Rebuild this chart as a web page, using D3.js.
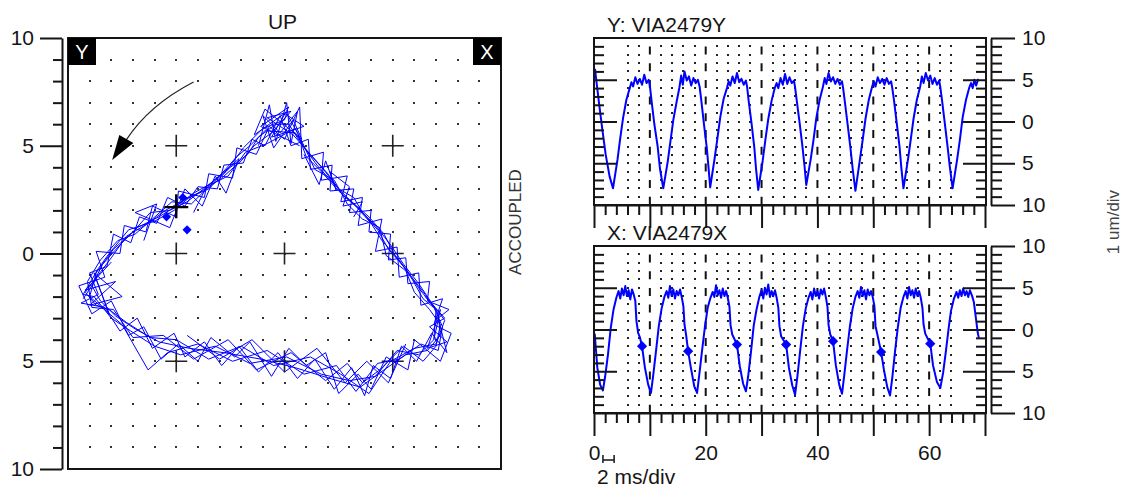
<!DOCTYPE html>
<html>
<head>
<meta charset="utf-8">
<script src="https://cdn.jsdelivr.net/npm/d3@7"></script>
<style>
body { margin: 0; background: #fff; }
svg { display: block; font-family: "Liberation Sans", Arial, sans-serif; }
</style>
</head>
<body>
<div id="chart"></div>
<script>
// ---- orbit (um), x / y pairs, several revolutions
var loopA = [[-0.4,6.0],[-1.2,5.4],[-1.7,4.6],[-2.5,4.0],[-3.3,3.3],[-4.2,2.8],[-5.0,2.2],[-5.8,1.7],[-6.8,1.2],[-7.6,0.4],[-8.4,-0.5],[-8.9,-1.5],[-8.5,-2.2],[-7.8,-2.9],[-6.9,-3.5],[-5.8,-4.1],[-4.4,-4.4],[-2.8,-4.6],[-1.1,-4.9],[0.5,-5.3],[2.1,-5.8],[3.5,-6.2],[4.6,-5.4],[5.6,-4.7],[6.6,-4.5],[7.2,-3.8],[7.1,-2.8],[6.5,-1.9],[5.8,-1.0],[5.1,-0.1],[4.6,0.9],[3.9,1.7],[3.0,2.5],[2.3,3.2],[1.5,4.1],[0.7,5.2],[0.2,6.0],[-0.4,6.0]];
var loopB = [[0.3,6.6],[-0.6,5.6],[-1.4,5.0],[-2.0,4.3],[-2.9,3.5],[-3.8,2.9],[-4.6,2.5],[-5.5,2.0],[-6.3,1.4],[-7.3,0.8],[-8.0,-0.2],[-9.2,-1.8],[-8.7,-2.4],[-8.1,-2.6],[-7.3,-3.2],[-6.2,-3.9],[-5.0,-4.0],[-3.5,-4.9],[-2.0,-4.3],[-0.5,-5.2],[1.2,-4.8],[2.6,-5.6],[3.9,-6.5],[4.9,-5.0],[6.0,-4.4],[7.0,-4.2],[7.4,-3.1],[6.8,-2.3],[6.2,-1.4],[5.5,-0.5],[4.9,0.4],[4.2,1.3],[3.4,2.1],[2.7,2.7],[2.0,3.7],[1.2,4.6],[0.4,5.5],[-0.8,6.3],[0.3,6.6]];
var loopC = [[-0.9,5.7],[-1.6,5.0],[-2.2,4.5],[-3.0,3.6],[-3.6,3.1],[-4.5,2.4],[-5.3,2.0],[-6.2,1.9],[-7.0,1.0],[-7.9,0.2],[-8.7,-0.9],[-9.0,-2.0],[-8.2,-2.7],[-7.5,-3.3],[-6.3,-5.4],[-5.4,-4.6],[-4.0,-4.2],[-2.4,-5.0],[-0.8,-4.5],[0.9,-5.6],[2.4,-5.2],[3.3,-6.4],[4.3,-5.1],[5.3,-4.9],[6.3,-4.2],[7.1,-4.5],[7.3,-3.4],[6.9,-2.5],[6.2,-1.6],[5.6,-0.7],[4.8,0.2],[4.3,1.1],[3.6,1.9],[3.2,2.6],[2.5,3.0],[1.8,3.9],[1.0,4.8],[0.5,5.6],[-0.9,5.7]];
var loopD = [[0.0,6.2],[-1.0,5.8],[-1.9,4.9],[-2.7,3.8],[-3.5,3.0],[-4.4,2.6],[-5.1,2.0],[-6.0,1.5],[-7.2,1.1],[-8.1,0.0],[-8.6,-0.7],[-9.3,-1.9],[-8.8,-2.0],[-8.0,-3.0],[-7.1,-3.6],[-6.0,-4.3],[-4.8,-4.7],[-3.2,-4.3],[-1.6,-5.1],[0.1,-4.8],[1.7,-5.6],[3.0,-5.9],[4.2,-5.7],[5.2,-4.5],[6.2,-4.7],[6.9,-4.0],[7.0,-2.6],[6.4,-2.1],[5.9,-1.2],[5.3,-0.3],[4.5,0.6],[4.0,1.4],[3.2,2.3],[2.5,2.9],[1.7,3.8],[1.0,4.5],[0.6,5.6],[0.1,6.5],[0.0,6.2]];
var loopE = [[0.5,5.8],[-0.8,5.1],[-1.8,4.7],[-2.6,3.6],[-3.4,3.2],[-4.3,2.3],[-5.2,2.4],[-6.1,1.6],[-6.9,0.9],[-7.7,0.6],[-8.5,-0.3],[-9.1,-1.3],[-8.9,-2.5],[-7.9,-2.6],[-7.0,-3.9],[-5.6,-3.8],[-4.2,-4.9],[-2.6,-4.0],[-1.3,-5.4],[0.3,-4.6],[1.9,-5.9],[2.9,-5.1],[3.6,-6.0],[4.4,-5.4],[5.5,-4.3],[6.4,-5.0],[7.0,-4.3],[7.2,-3.3],[6.7,-2.6],[6.0,-1.8],[5.6,-0.8],[4.7,-0.1],[4.4,1.2],[3.6,1.6],[2.9,2.3],[2.3,3.4],[1.4,3.9],[0.9,5.0],[0.5,5.8]];
var loopF = [[-0.2,6.4],[-0.9,5.0],[-1.5,5.3],[-1.9,4.2],[-2.8,4.1],[-3.1,3.0],[-4.0,3.1],[-4.6,2.2],[-5.4,2.6],[-5.9,1.4],[-6.7,1.7],[-7.1,0.5],[-7.9,0.9],[-8.2,-0.6],[-9.0,-0.9],[-8.6,-1.9],[-9.4,-2.3],[-8.3,-2.5],[-7.6,-3.6],[-6.8,-3.0],[-6.1,-4.4],[-5.1,-3.7],[-4.6,-4.8],[-3.7,-4.1],[-2.9,-5.2],[-2.1,-4.3],[-1.2,-5.5],[-0.3,-4.6],[0.6,-5.8],[1.4,-4.9],[2.3,-6.3],[3.1,-5.3],[3.7,-6.6],[4.1,-5.2],[4.9,-5.8],[5.4,-4.3],[6.1,-5.0],[6.8,-3.7],[7.5,-4.6],[7.1,-3.0],[7.6,-2.6],[6.6,-2.2],[6.7,-1.3],[5.7,-1.4],[5.6,-0.2],[4.8,-0.3],[4.9,0.9],[3.9,1.0],[4.0,2.0],[3.0,1.9],[3.2,3.0],[2.1,2.9],[2.2,4.1],[1.2,3.9],[1.1,5.3],[0.3,5.0],[-0.2,6.4]];
var loopG = [[0.7,6.8],[0.0,5.3],[-0.7,5.9],[-1.3,4.6],[-2.2,4.9],[-2.4,3.5],[-3.5,3.7],[-3.7,2.6],[-4.9,2.9],[-5.0,1.7],[-6.1,2.2],[-6.4,1.0],[-7.4,1.3],[-7.6,0.0],[-8.7,0.1],[-8.3,-1.1],[-9.5,-1.5],[-8.9,-2.8],[-8.0,-2.2],[-7.2,-3.8],[-6.5,-3.4],[-5.7,-4.9],[-4.9,-4.2],[-4.0,-5.0],[-3.4,-3.9],[-2.3,-4.8],[-1.6,-4.1],[-0.6,-5.7],[0.2,-4.4],[1.0,-5.2],[1.9,-4.6],[2.5,-6.5],[3.4,-5.6],[4.0,-6.3],[4.7,-4.8],[5.7,-5.4],[6.0,-4.0],[7.2,-5.0],[7.7,-3.7],[6.9,-3.3],[7.3,-2.1],[6.3,-2.4],[6.2,-0.9],[5.3,-1.1],[5.2,0.3],[4.2,0.1],[4.5,1.6],[3.4,1.3],[3.6,2.6],[2.6,2.4],[2.9,3.6],[1.7,3.4],[1.8,4.7],[0.8,4.4],[0.7,6.8]];
var noiseTop = [[-1.2,5.0],[-0.7,6.9],[-0.4,5.2],[0.1,7.0],[0.3,5.1],[0.6,6.6],[-0.2,5.6],[-1.0,6.4],[-0.5,4.9],[0.4,6.2],[0.8,5.3],[-0.9,6.7],[-1.4,5.5],[0.0,6.5],[0.9,5.9],[-0.6,5.4],[0.2,6.8],[-1.1,5.9],[0.7,5.0]];
var noiseRidge = [[0.9,4.6],[1.6,3.2],[1.9,4.3],[2.4,2.9],[2.1,3.8],[3.0,3.1],[2.7,2.2],[3.6,2.4],[3.2,1.7]];
var noiseUpperLeft = [[-6.5,0.6],[-5.9,2.3],[-6.9,1.9],[-5.3,1.2],[-4.6,3.0],[-3.8,2.2],[-3.2,3.6],[-2.7,2.8],[-2.1,4.4],[-3.6,3.1],[-4.2,1.9]];
var noiseLeft = [[-8.0,-0.4],[-9.2,-1.7],[-7.8,-1.3],[-9.0,-2.4],[-7.5,-2.0],[-8.8,-0.9],[-8.1,-2.8],[-8.7,-1.2],[-9.3,-2.1]];
var noiseRight = [[6.5,-2.0],[7.4,-3.0],[6.7,-3.4],[7.5,-4.1],[6.6,-4.4],[7.2,-2.6],[6.9,-4.0]];
var noiseBottom = [[-4.5,-3.8],[-3.0,-4.9],[-1.5,-4.0],[0.0,-5.5],[1.5,-4.4],[2.8,-6.0],[3.8,-5.0],[4.8,-6.0],[5.6,-4.2]];
var orbitKeyphasor = [[-4.7,2.6],[-5.45,1.7],[-4.5,1.1]];
var orbitStart = [-5.0, 2.15];
var orbitCrosses = [[-5,5],[5,5],[-5,0],[0,0],[5,0],[-5,-5],[0,-5],[5,-5]];
var rotationArrow = [[-4.2,7.96],[-6.26,6.89],[-7.31,5.27]];
var arrowHead = [[-7.96,4.34],[-7.63,5.5],[-6.98,5.13]];

// ---- timebase waveforms, [ms, um]
var waveY = [[0,5.2],[0.2,6.2],[0.4,5.0],[0.9,2.2],[1.5,-1.0],[2.1,-4.0],[2.8,-6.6],[3.4,-8.0],
[4.2,-4.6],[4.7,-2.0],[5.2,0.4],[5.8,2.6],[6.4,4.0],[6.7,4.7],[7.0,4.2],[7.4,5.3],[7.8,4.5],[8.2,5.1],[8.6,4.4],[9.0,5.6],[9.4,4.6],[9.8,5.0],[10.0,4.3],[10.3,2.5],[10.8,-0.3],[11.4,-3.0],[11.8,-5.6],[12.4,-8.0],
[13.2,-4.8],[13.7,-2.3],[14.2,0.2],[14.8,2.4],[15.3,4.1],[15.6,5.5],[15.9,4.4],[16.2,6.0],[16.6,4.9],[17.0,5.4],[17.4,4.3],[17.8,5.2],[18.2,4.6],[18.6,5.0],[18.9,4.2],[19.2,2.6],[19.7,-0.4],[20.2,-3.2],[20.5,-5.5],[20.8,-7.9],
[21.6,-4.4],[22.1,-2.0],[22.6,0.5],[23.2,2.7],[23.8,4.0],[24.1,4.8],[24.4,4.3],[24.8,5.4],[25.2,4.6],[25.6,5.8],[26.0,4.7],[26.4,5.1],[26.8,4.4],[27.2,4.9],[27.4,4.2],[27.7,2.4],[28.2,-0.2],[28.7,-3.1],[29.0,-5.6],[29.4,-8.2],
[30.2,-4.7],[30.7,-2.1],[31.2,0.3],[31.8,2.5],[32.4,4.1],[32.7,4.6],[33.0,4.0],[33.4,5.2],[33.8,4.4],[34.2,5.7],[34.6,4.5],[35.0,5.3],[35.4,4.6],[35.8,4.9],[36.0,4.1],[36.3,2.5],[36.8,-0.1],[37.3,-2.9],[37.7,-5.4],[38.0,-7.6],
[38.8,-4.5],[39.3,-2.2],[39.8,0.4],[40.4,2.6],[41.0,4.2],[41.3,5.2],[41.6,4.5],[42.0,5.8],[42.4,4.8],[42.8,5.3],[43.2,4.5],[43.6,5.1],[44.0,4.4],[44.4,4.8],[44.6,4.0],[44.9,2.4],[45.4,-0.3],[45.9,-3.1],[46.3,-5.6],[46.8,-8.3],
[47.6,-4.6],[48.1,-2.2],[48.6,0.3],[49.2,2.6],[49.8,4.2],[50.1,4.8],[50.4,4.2],[50.8,5.3],[51.2,4.6],[51.6,5.1],[52.0,4.4],[52.4,5.2],[52.8,4.5],[53.2,4.8],[53.4,4.0],[53.7,2.6],[54.2,-0.2],[54.7,-3.0],[55.0,-5.4],[55.4,-8.0],
[56.2,-4.6],[56.7,-2.2],[57.2,0.3],[57.8,2.6],[58.4,4.2],[58.7,5.4],[59.0,4.6],[59.4,5.8],[59.8,4.9],[60.2,5.5],[60.6,4.5],[61.0,5.2],[61.4,4.4],[61.8,4.9],[62.0,4.1],[62.3,2.6],[62.8,-0.2],[63.3,-3.0],[63.7,-5.4],[64.2,-8.0],
[65.0,-4.6],[65.5,-2.2],[66.0,0.5],[66.6,2.6],[67.2,4.1],[67.5,4.6],[67.8,4.0],[68.1,5.0],[68.4,4.3],[68.8,5.1]];

var waveX = [[0,-1.2],[0.15,-0.6],[0.3,-2.0],[0.6,-4.6],[1.1,-6.6],[1.6,-7.3],[2.0,-5.6],[2.5,-3.0],[3.0,0.2],[3.5,2.4],[4.0,3.8],[4.4,4.6],[4.7,3.7],[5.0,4.9],[5.3,4.1],[5.6,5.2],[5.9,4.0],[6.2,4.7],[6.5,3.6],[6.8,4.8],[7.1,4.2],[7.4,3.4],[7.6,1.0],[7.9,-0.4],[8.2,-0.9],[8.6,-2.0],
[9.1,-4.5],[9.7,-6.6],[10.2,-7.6],[10.6,-5.5],[11.1,-2.6],[11.6,0.4],[12.1,2.5],[12.6,3.9],[13.0,4.6],[13.3,3.8],[13.6,5.2],[13.9,4.0],[14.2,4.8],[14.5,3.7],[14.8,4.6],[15.1,4.1],[15.4,4.8],[15.7,3.9],[16.0,2.8],[16.2,0.6],[16.5,-0.7],[16.85,-2.6],
[17.35,-4.6],[17.95,-6.8],[18.45,-7.6],[18.85,-5.4],[19.35,-2.5],[19.85,0.3],[20.35,2.6],[20.85,3.8],[21.25,4.5],[21.55,3.9],[21.85,5.3],[22.15,4.1],[22.45,4.7],[22.75,3.8],[23.05,4.9],[23.35,4.0],[23.65,4.6],[23.95,3.8],[24.25,2.7],[24.45,0.5],[24.75,-0.6],[25.6,-1.8],
[26.1,-4.4],[26.7,-6.5],[27.2,-7.4],[27.6,-5.6],[28.1,-2.7],[28.6,0.5],[29.1,2.4],[29.6,3.9],[30.0,4.7],[30.3,3.7],[30.6,5.0],[30.9,4.2],[31.2,5.4],[31.5,3.9],[31.8,4.6],[32.1,4.0],[32.4,4.7],[32.7,3.8],[33.0,2.6],[33.2,0.4],[33.5,-0.8],[34.4,-1.8],
[34.9,-4.6],[35.5,-6.7],[36.0,-7.8],[36.4,-5.7],[36.9,-2.6],[37.4,0.4],[37.9,2.5],[38.4,3.8],[38.8,4.5],[39.1,3.6],[39.4,4.9],[39.7,4.0],[40.0,4.6],[40.3,3.7],[40.6,4.8],[40.9,4.2],[41.2,4.9],[41.5,3.9],[41.8,2.7],[42.0,0.5],[42.3,-0.6],[42.8,-1.4],
[43.3,-4.3],[43.9,-6.6],[44.4,-7.7],[44.8,-5.5],[45.3,-2.5],[45.8,0.3],[46.3,2.5],[46.8,3.9],[47.2,4.6],[47.5,3.8],[47.8,5.1],[48.1,4.0],[48.4,4.7],[48.7,3.6],[49.0,4.8],[49.3,4.1],[49.6,4.6],[49.9,3.9],[50.2,2.8],[50.4,0.4],[50.7,-0.5],[51.4,-2.7],
[51.9,-4.8],[52.5,-6.9],[53.0,-7.9],[53.4,-5.8],[53.9,-2.6],[54.4,0.3],[54.9,2.6],[55.4,3.9],[55.8,4.6],[56.1,3.7],[56.4,5.1],[56.7,4.1],[57.0,4.7],[57.3,3.8],[57.6,4.9],[57.9,4.0],[58.2,4.6],[58.5,3.8],[58.8,2.6],[59.0,0.6],[59.3,-0.5],[60.2,-1.7],
[60.7,-4.3],[61.4,-6.3],[62.0,-7.0],[62.5,-5.2],[63.0,-2.6],[63.5,0.2],[63.9,2.2],[64.4,3.6],[64.9,4.5],[65.2,3.8],[65.5,4.7],[65.8,4.0],[66.1,4.9],[66.4,4.1],[66.7,4.6],[67.0,3.9],[67.3,4.7],[67.7,4.0],[68.0,3.3],[68.4,1.2],[68.7,-0.4],[68.9,-1.0]];
var keyphasorX = [[8.6,-2.0],[16.85,-2.6],[25.6,-1.8],[34.4,-1.8],[42.8,-1.4],[51.4,-2.7],[60.2,-1.7]];

// ticks and labels
var ampMajor = [-10, -5, 0, 5, 10];
var ampMinor = [-9,-8,-7,-6,-4,-3,-2,-1,1,2,3,4,6,7,8,9];
var timeMajor = [0, 10, 20, 30, 40, 50, 60, 70];
var timeLabels = [0, 20, 40, 60];

(function () {
	var blue = "#0000ff", ink = "#151515";

	var svg = d3.select("#chart")
		.append("svg")
		.attr("width", 1132)
		.attr("height", 491);

	svg.append("rect").attr("width", 1132).attr("height", 491).attr("fill", "#fff");

	// ================= orbit =================
	var xO = d3.scaleLinear().domain([-10, 10]).range([68, 501]);
	var yO = d3.scaleLinear().domain([-10, 10]).range([469, 38]);

	var orbit = svg.append("g");

	// dot grid
	var grid = d3.cross(d3.range(-9, 10), d3.range(-9, 10));
	orbit.selectAll(".odot")
		.data(grid)
		.enter().append("rect")
		.attr("x", function(d) { return Math.round(xO(d[0])) - 1; })
		.attr("y", function(d) { return Math.round(yO(d[1])) - 1; })
		.attr("width", 2).attr("height", 2)
		.attr("fill", "#333");

	orbit.selectAll(".cross")
		.data(orbitCrosses)
		.enter().append("path")
		.attr("d", function(d) {
			var x = xO(d[0]), y = yO(d[1]);
			return "M" + (x - 11) + "," + y + "H" + (x + 11) + "M" + x + "," + (y - 11) + "V" + (y + 11);
		})
		.attr("stroke", "#222")
		.attr("stroke-width", 1.6);

	var lineO = d3.line()
		.x(function(d) { return xO(d[0]); })
		.y(function(d) { return yO(d[1]); });

	orbit.selectAll(".loop")
		.data([loopA, loopB, loopC, loopD, loopE, loopF, loopG, noiseTop, noiseRidge, noiseUpperLeft, noiseLeft, noiseRight, noiseBottom])
		.enter().append("path")
		.attr("d", lineO)
		.attr("fill", "none")
		.attr("stroke", blue)
		.attr("stroke-width", 1);

	// start marker + keyphasor dots
	orbit.append("path")
		.attr("d", function() {
			var x = xO(orbitStart[0]), y = yO(orbitStart[1]);
			return "M" + (x - 12) + "," + y + "H" + (x + 12) + "M" + x + "," + (y - 13) + "V" + (y + 11);
		})
		.attr("stroke", "#000")
		.attr("stroke-width", 2.4);

	orbit.selectAll(".kpo")
		.data(orbitKeyphasor)
		.enter().append("path")
		.attr("d", d3.symbol(d3.symbolSquare, 42))
		.attr("transform", function(d) { return "translate(" + xO(d[0]) + "," + yO(d[1]) + ") rotate(45)"; })
		.attr("fill", blue);

	// rotation arrow
	var curve = d3.path();
	curve.moveTo(xO(rotationArrow[0][0]), yO(rotationArrow[0][1]));
	curve.quadraticCurveTo(xO(rotationArrow[1][0]), yO(rotationArrow[1][1]), xO(rotationArrow[2][0]), yO(rotationArrow[2][1]));
	orbit.append("path")
		.attr("d", curve.toString())
		.attr("fill", "none")
		.attr("stroke", "#222")
		.attr("stroke-width", 1.2);
	orbit.append("path")
		.attr("d", lineO(arrowHead) + "Z")
		.attr("fill", "#000");

	// frame
	orbit.append("rect")
		.attr("x", xO(-10)).attr("y", yO(10))
		.attr("width", xO(10) - xO(-10)).attr("height", yO(-10) - yO(10))
		.attr("fill", "none")
		.attr("stroke", ink)
		.attr("stroke-width", 2);

	// probe tags
	[["Y", xO(-10)], ["X", xO(10) - 28]].forEach(function(t) {
		orbit.append("rect").attr("x", t[1]).attr("y", yO(10)).attr("width", 28).attr("height", 27).attr("fill", "#000");
		orbit.append("text")
			.attr("x", t[1] + 14).attr("y", yO(10) + 21)
			.attr("text-anchor", "middle")
			.attr("font-size", 20)
			.attr("fill", "#fff")
			.text(t[0]);
	});

	// left amplitude axis
	var oAxis = svg.append("g").attr("transform", "translate(62,0)");
	oAxis.call(d3.axisLeft(yO).tickValues(ampMajor).tickSize(22).tickSizeOuter(0).tickPadding(6)
		.tickFormat(function(d) { return Math.abs(d); }));
	var oMinor = svg.append("g").attr("transform", "translate(62,0)");
	oMinor.call(d3.axisLeft(yO).tickValues(ampMinor).tickSize(9).tickFormat(""));
	oMinor.select(".domain").remove();
	[oAxis, oMinor].forEach(function(g) {
		g.attr("color", ink).attr("font-size", 21).attr("font-family", null);
		g.selectAll("line, path").attr("stroke-width", 2);
	});

	svg.append("text")
		.attr("x", xO(0) - 2).attr("y", 29)
		.attr("text-anchor", "middle")
		.attr("font-size", 21)
		.attr("fill", ink)
		.text("UP");

	svg.append("text")
		.attr("transform", "translate(521,222) rotate(-90)")
		.attr("text-anchor", "middle")
		.attr("font-size", 17)
		.attr("fill", "#333")
		.text("ACCOUPLED");

	// ================= timebase =================
	var xT = d3.scaleLinear().domain([0, 70]).range([594, 985]);

	var dotTimes = d3.range(6, 65, 2).filter(function(t) { return t % 10 !== 0; });
	var timeMinor = d3.range(2, 70, 2).filter(function(t) { return t % 10 !== 0; });
	var lineMinor = ampMinor.filter(function(v) { return v % 5 !== 0; });

	function panel(top, title, series, marks, labels) {
		var yS = d3.scaleLinear().domain([-10, 10]).range([top + 167, top]);
		var g = svg.append("g");

		g.selectAll(".tdot")
			.data(d3.cross(dotTimes, d3.range(-9, 10)))
			.enter().append("rect")
			.attr("x", function(d) { return Math.round(xT(d[0])) - 1; })
			.attr("y", function(d) { return Math.round(yS(d[1])) - 1; })
			.attr("width", 2).attr("height", 2)
			.attr("fill", "#222");

		g.selectAll(".dash")
			.data(d3.range(10, 70, 10))
			.enter().append("line")
			.attr("x1", function(d) { return xT(d); })
			.attr("x2", function(d) { return xT(d); })
			.attr("y1", yS(10)).attr("y2", yS(-10))
			.attr("stroke", "#111")
			.attr("stroke-width", 2)
			.attr("stroke-dasharray", "8,8.7")
			.attr("stroke-dashoffset", 8.2);

		g.append("path")
			.datum(series)
			.attr("d", d3.line().x(function(d) { return xT(d[0]); }).y(function(d) { return yS(d[1]); }))
			.attr("fill", "none")
			.attr("stroke", blue)
			.attr("stroke-width", 2)
			.attr("stroke-linejoin", "round");

		g.selectAll(".kp")
			.data(marks)
			.enter().append("path")
			.attr("d", d3.symbol(d3.symbolSquare, 52))
			.attr("transform", function(d) { return "translate(" + xT(d[0]) + "," + yS(d[1]) + ") rotate(45)"; })
			.attr("fill", blue);

		g.append("rect")
			.attr("x", 594).attr("y", top)
			.attr("width", 392).attr("height", 167)
			.attr("fill", "none")
			.attr("stroke", ink)
			.attr("stroke-width", 2);

		var axes = [];
		var b = g.append("g").attr("transform", "translate(0," + (top + 167) + ")")
			.call(d3.axisBottom(xT).tickValues(timeMajor).tickSize(23).tickSizeOuter(0).tickPadding(9)
				.tickFormat(function(d) { return labels && timeLabels.indexOf(d) >= 0 ? d : ""; }));
		axes.push(b);
		var bm = g.append("g").attr("transform", "translate(0," + (top + 167) + ")")
			.call(d3.axisBottom(xT).tickValues(timeMinor).tickSize(10).tickFormat(""));
		bm.select(".domain").remove();
		axes.push(bm);

		// inner ticks on both sides
		[[594, d3.axisRight], [986, d3.axisLeft]].forEach(function(s) {
			var a1 = g.append("g").attr("transform", "translate(" + s[0] + ",0)")
				.call(s[1](yS).tickValues([-5, 0, 5]).tickSize(23).tickFormat(""));
			var a2 = g.append("g").attr("transform", "translate(" + s[0] + ",0)")
				.call(s[1](yS).tickValues(lineMinor).tickSize(10).tickFormat(""));
			a1.select(".domain").remove();
			a2.select(".domain").remove();
			axes.push(a1, a2);
		});

		// outer scale on the right
		var r = g.append("g").attr("transform", "translate(991,0)")
			.call(d3.axisRight(yS).tickValues(ampMajor).tickSize(24).tickSizeOuter(0).tickPadding(7)
				.tickFormat(function(d) { return Math.abs(d); }));
		var rm = g.append("g").attr("transform", "translate(991,0)")
			.call(d3.axisRight(yS).tickValues(ampMinor).tickSize(11).tickFormat(""));
		rm.select(".domain").remove();
		axes.push(r, rm);

		axes.forEach(function(a) {
			a.attr("color", ink).attr("font-size", 21).attr("font-family", null);
			a.selectAll("line, path").attr("stroke-width", 2);
		});

		g.append("text")
			.attr("x", 607).attr("y", top - 6)
			.attr("font-size", 21)
			.attr("fill", ink)
			.text(title);
	}

	panel(38, "Y: VIA2479Y", waveY, [], false);
	panel(246, "X: VIA2479X", waveX, keyphasorX, true);

	// scale marker and units
	svg.append("path")
		.attr("d", "M" + xT(1.6) + ",455V463M" + xT(3.6) + ",455V463M" + xT(1.6) + ",460H" + xT(3.6))
		.attr("stroke", ink)
		.attr("stroke-width", 1.5)
		.attr("fill", "none");

	svg.append("text")
		.attr("x", 597).attr("y", 484)
		.attr("font-size", 21)
		.attr("fill", ink)
		.text("2 ms/div");

	svg.append("text")
		.attr("transform", "translate(1119,222) rotate(-90)")
		.attr("text-anchor", "middle")
		.attr("font-size", 17)
		.attr("fill", "#444")
		.text("1 um/div");
})();
</script>
</body>
</html>
